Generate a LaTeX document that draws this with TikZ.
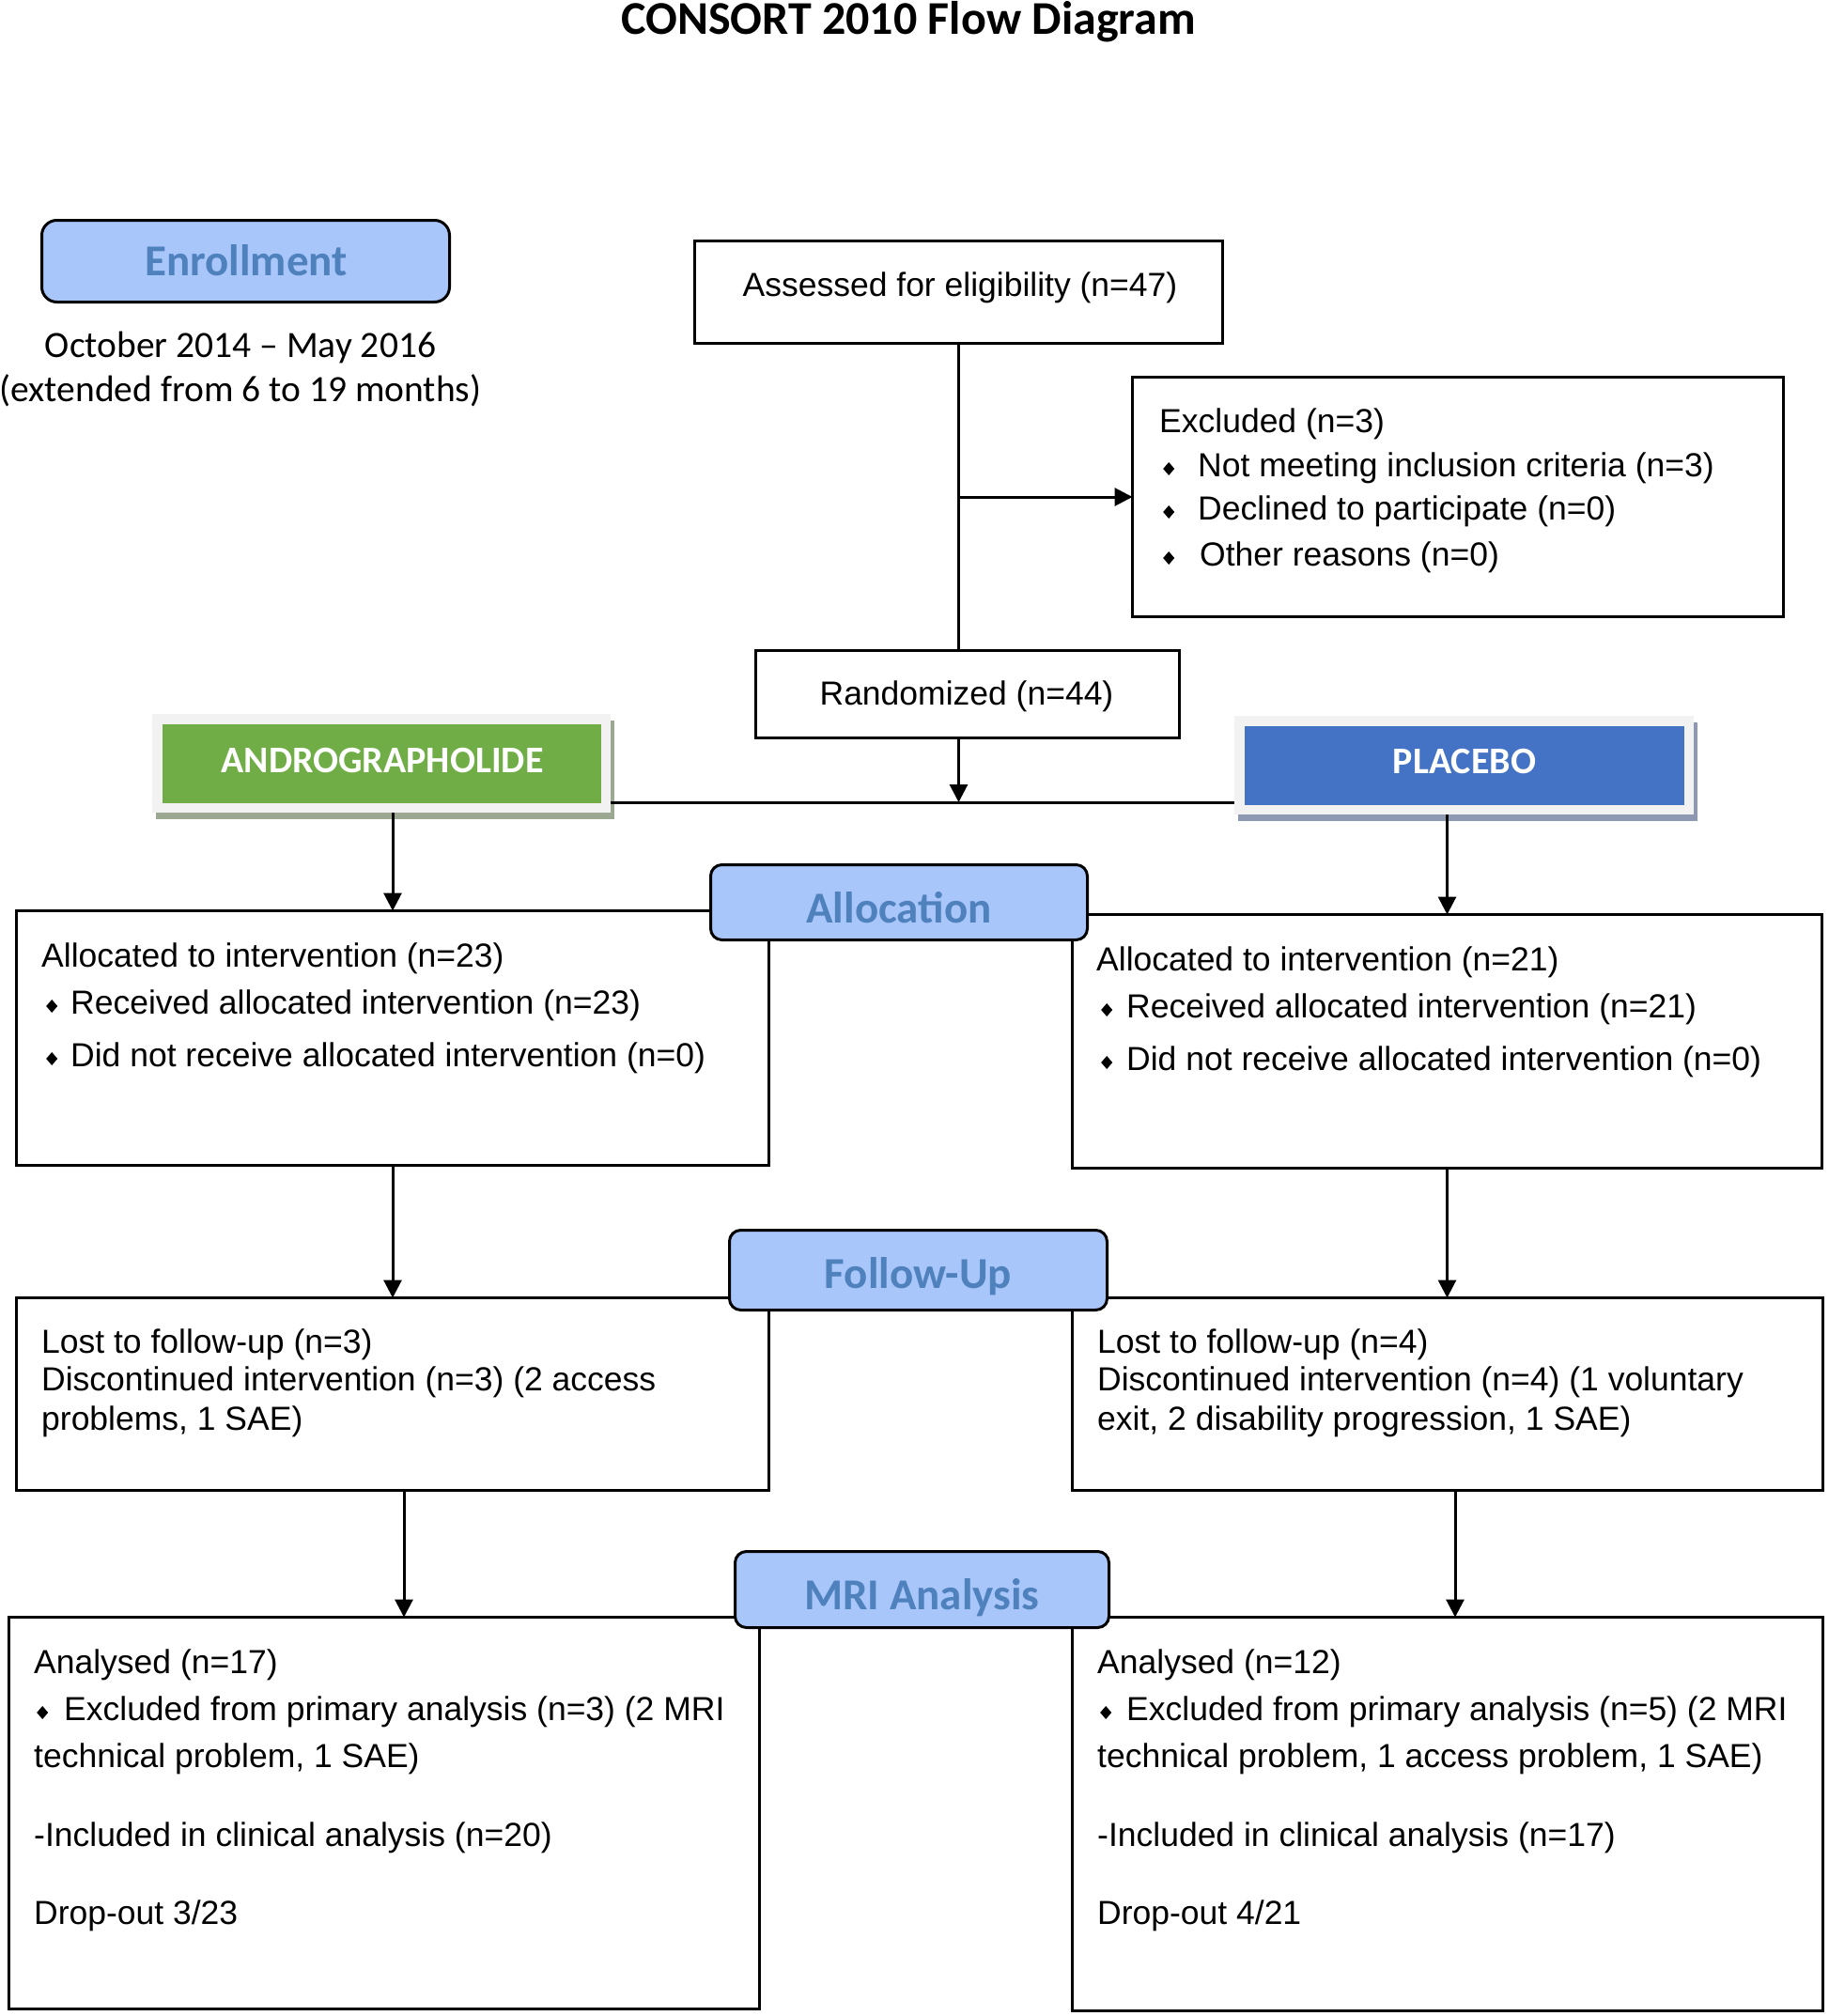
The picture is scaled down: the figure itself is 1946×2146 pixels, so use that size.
\documentclass[tikz,border=0pt]{standalone}
\usepackage{fontspec}
\setmainfont{Liberation Sans}
\newfontfamily\calib[Ligatures=TeX]{Carlito}
\usetikzlibrary{arrows.meta}
\definecolor{lblfill}{HTML}{A8C6FA}
\definecolor{lbltext}{HTML}{4F81BD}
\definecolor{andgreen}{HTML}{70AD47}
\definecolor{plblue}{HTML}{4472C4}
\definecolor{framegray}{HTML}{F2F2F2}
\definecolor{shgreen}{HTML}{9DA893}
\definecolor{shblue}{HTML}{8D99B0}
\newcommand\dia{\tikz[baseline=0pt,x=1pt,y=1pt]\fill[black] (0,8)--(6,15)--(12,8)--(6,1)--cycle;}
\newcommand\bitem[2]{\makebox[#1pt][l]{\dia}#2}
\begin{document}
\begin{tikzpicture}[x=1pt,y=-1pt,
 box/.style={draw=black,line width=3pt,rectangle,inner sep=0pt,outer sep=0pt},
 lbl/.style={draw=black,line width=3pt,rounded corners=12pt,fill=lblfill,inner sep=0pt,outer sep=0pt},
 lbltxt/.style={text=lbltext,font=\calib\bfseries\fontsize{47}{56}\selectfont,anchor=base,inner sep=0pt},
 armtxt/.style={text=white,font=\calib\bfseries\fontsize{40}{48}\selectfont,anchor=base,inner sep=0pt},
 caltxt/.style={font=\calib\fontsize{39.5}{46}\selectfont,anchor=base,inner sep=0pt},
 txt/.style={font=\fontsize{35.5}{42}\selectfont,anchor=base west,inner sep=0pt},
 ctxt/.style={font=\fontsize{35.5}{42}\selectfont,anchor=base,inner sep=0pt},
 arr/.style={line width=3pt,-{Triangle[length=19pt,width=19pt]}},
 ln/.style={line width=3pt},
 arm/.style={line width=10.5pt,inner sep=0pt,outer sep=5.25pt,draw=framegray}]
\useasboundingbox (0,0) rectangle (1946,2146);
\fill[white] (0,0) rectangle (1946,2146);

% title
\node[font=\calib\bfseries\fontsize{50}{60}\selectfont,anchor=base,inner sep=0pt] (title) at (967,37) {CONSORT 2010 Flow Diagram};

% boxes
\node[box,minimum width=562,minimum height=109] (as) at (1020.5,311) {};
\node[box,minimum width=693,minimum height=255] (ex) at (1552,529) {};
\node[box,minimum width=451,minimum height=93] (ra) at (1030,739) {};
\node[box,minimum width=801,minimum height=271] (al) at (418,1105) {};
\node[box,minimum width=798,minimum height=270] (ar) at (1540.5,1108.5) {};
\node[box,minimum width=801,minimum height=205] (fl) at (418,1484) {};
\node[box,minimum width=799,minimum height=205] (fr) at (1541,1484) {};
\node[box,minimum width=799,minimum height=417] (ml) at (409,1930) {};
\node[box,minimum width=799,minimum height=419] (mr) at (1541,1931) {};

% arm boxes
\fill[shgreen] (166,767) rectangle (654,872);
\node[arm,fill=andgreen,minimum width=477.5,minimum height=94.5] (an) at (406,812.5) {};
\fill[shblue] (1318,769) rectangle (1807,874);
\node[arm,fill=plblue,minimum width=478.5,minimum height=94.5] (pl) at (1558.5,814.5) {};
\node[armtxt] (antx) at (407,822) {ANDROGRAPHOLIDE};
\node[armtxt] (pltx) at (1559,823) {PLACEBO};

% stage labels
\node[lbl,rounded corners=16pt,minimum width=434,minimum height=87] (en) at (261.5,278) {};
\node[lbltxt] (entx) at (262,293) {Enrollment};
\node[lbl,minimum width=401,minimum height=80] (alab) at (957,960.5) {};
\node[lbltxt] (alabtx) at (957,982) {Allocation};
\node[lbl,minimum width=402,minimum height=85] (flab) at (977.5,1352) {};
\node[lbltxt] (flabtx) at (977.5,1371) {Follow-Up};
\node[lbl,minimum width=398,minimum height=81] (mlab) at (981.5,1692) {};
\node[lbltxt] (mlabtx) at (981.5,1713) {MRI Analysis};

% enrollment note
\node[caltxt] (en1) at (256,380) {October 2014 – May 2016};
\node[caltxt] (en2) at (256,427) {(extended from 6 to 19 months)};

% texts
\node[ctxt] (astx) at (1022,315) {Assessed for eligibility (n=47)};
\node[ctxt] (ratx) at (1029,750) {Randomized (n=44)};

\node[txt] (ex1) at (1234,460) {Excluded (n=3)};
\node[txt] (ex2) at (1238,507) {\bitem{37}{Not meeting inclusion criteria (n=3)}};
\node[txt] (ex3) at (1238,553) {\bitem{37}{Declined to participate (n=0)}};
\node[txt] (ex4) at (1238,602) {\bitem{39}{Other reasons (n=0)}};

\node[txt] (al1) at (44,1029) {Allocated to intervention (n=23)};
\node[txt] (al2) at (49,1079) {\bitem{26}{Received allocated intervention (n=23)}};
\node[txt] (al3) at (49,1135) {\bitem{26}{Did not receive allocated intervention (n=0)}};

\node[txt] (ar1) at (1167,1033) {Allocated to intervention (n=21)};
\node[txt] (ar2) at (1172,1083) {\bitem{27}{Received allocated intervention (n=21)}};
\node[txt] (ar3) at (1172,1139) {\bitem{27}{Did not receive allocated intervention (n=0)}};

\node[txt] (fl1) at (44,1440) {Lost to follow-up (n=3)};
\node[txt] (fl2) at (44,1480) {Discontinued intervention (n=3) (2 access};
\node[txt] (fl3) at (44,1522) {problems, 1 SAE)};

\node[txt] (fr1) at (1168,1440) {Lost to follow-up (n=4)};
\node[txt] (fr2) at (1168,1480) {Discontinued intervention (n=4) (1 voluntary};
\node[txt] (fr3) at (1168,1522) {exit, 2 disability progression, 1 SAE)};

\node[txt] (ml1) at (36,1781) {Analysed (n=17)};
\node[txt] (ml2) at (39,1831) {\bitem{29}{Excluded from primary analysis (n=3) (2 MRI}};
\node[txt] (ml3) at (36,1881) {technical problem, 1 SAE)};
\node[txt] (ml4) at (36,1965) {-Included in clinical analysis (n=20)};
\node[txt] (ml5) at (36,2048) {Drop-out 3/23};

\node[txt] (mr1) at (1168,1781) {Analysed (n=12)};
\node[txt] (mr2) at (1171,1831) {\bitem{28}{Excluded from primary analysis (n=5) (2 MRI}};
\node[txt] (mr3) at (1168,1881) {technical problem, 1 access problem, 1 SAE)};
\node[txt] (mr4) at (1168,1965) {-Included in clinical analysis (n=17)};
\node[txt] (mr5) at (1168,2048) {Drop-out 4/21};

% connectors
\coordinate (hl) at (1020.5,854);
\draw[ln] (as.south) -- (as.south |- ra.north);
\draw[arr] (as.south |- ex.west) -- (ex.west);
\draw[arr] (as.south |- ra.south) -- (hl);
\draw[ln] (an.east |- hl) -- (pl.west |- hl);
\draw[arr] (an.south -| al.north) -- (al.north);
\draw[arr] (pl.south -| ar.north) -- (ar.north);
\draw[arr] (al.south) -- (fl.north);
\draw[arr] (ar.south) -- (ar.south |- fr.north);
\draw[arr] ([xshift=12pt]fl.south) -- ([xshift=12pt]fl.south |- ml.north);
\draw[arr] ([xshift=8pt]fr.south) -- ([xshift=8pt]fr.south |- mr.north);
\end{tikzpicture}
\end{document}
